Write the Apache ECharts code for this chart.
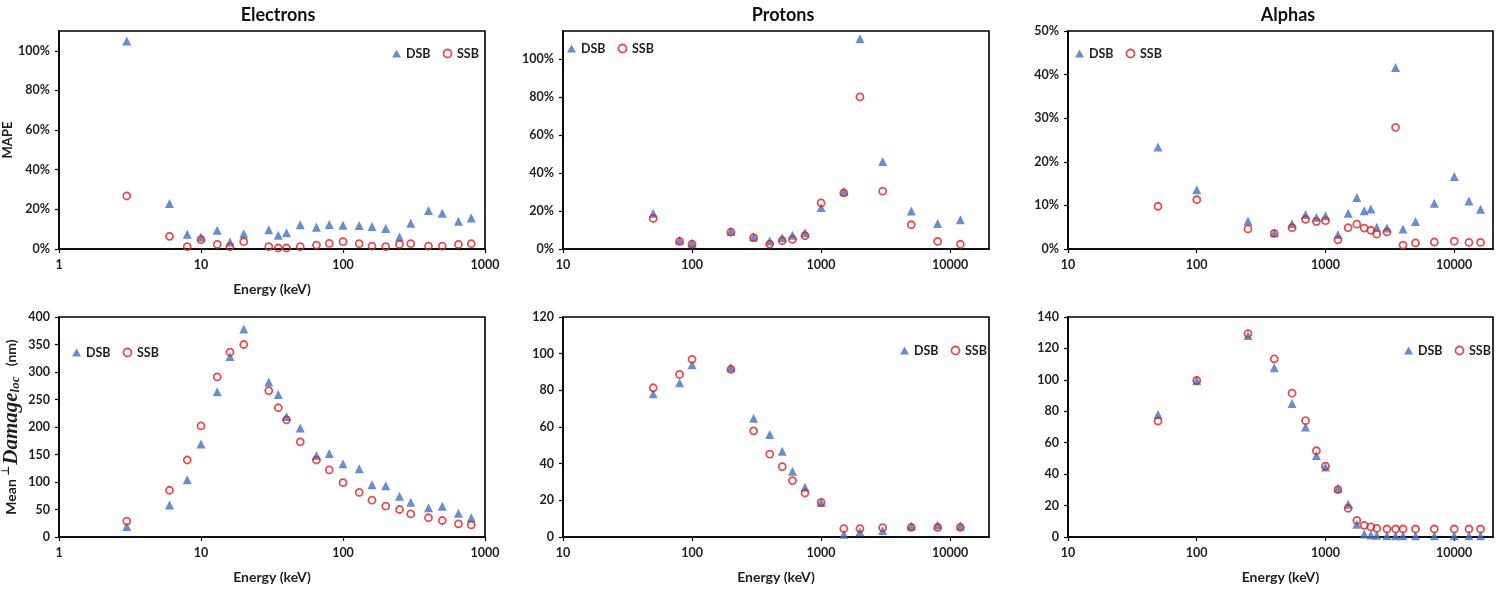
<!DOCTYPE html>
<html>
<head>
<meta charset="utf-8">
<script src="https://cdn.jsdelivr.net/npm/echarts@6.0.0/dist/echarts.min.js"></script>
<style>
html,body{margin:0;padding:0;background:#fff;}
#chart{width:1507px;height:591px;}
</style>
</head>
<body>
<div id="chart"></div>
<script>
// ---------------- DATA ----------------
const panelTitles = ['Electrons', 'Protons', 'Alphas'];
const seriesNames = ['DSB', 'SSB'];
const xAxisName = 'Energy (keV)';

const eEnergy = [3, 6, 8, 10, 13, 16, 20, 30, 35, 40, 50, 65, 80, 100, 130, 160, 200, 250, 300, 400, 500, 650, 800];
const eMapeDSB = [105, 23, 7.4, 6.0, 9.4, 3.5, 7.7, 9.7, 7.0, 8.2, 12.2, 11.0, 12.4, 12.0, 11.9, 11.4, 10.4, 6.0, 13.0, 19.4, 18.1, 14.0, 15.7];
const eMapeSSB = [26.8, 6.4, 1.2, 4.7, 2.3, 1.2, 3.7, 1.2, 0.5, 0.5, 1.2, 2.0, 2.8, 3.7, 2.7, 1.5, 1.2, 2.3, 2.7, 1.5, 1.5, 2.3, 2.7];
const eLocDSB = [19, 58, 104, 169, 264, 328, 378, 282, 259, 219, 198, 148, 152, 133, 124, 95, 93, 74, 63, 53, 56, 43, 35];
const eLocSSB = [29, 85, 140, 202, 291, 336, 350, 266, 235, 213, 173, 140, 122, 99, 81, 67, 56, 50, 42, 35, 30, 24, 22];

const pEnergy = [50, 80, 100, 200, 300, 400, 500, 600, 750, 1000, 1500, 2000, 3000, 5000, 8000, 12000];
const pMapeDSB = [18.9, 4.6, 3.0, 9.3, 6.3, 4.2, 6.0, 7.2, 8.6, 21.9, 30.3, 110.9, 46.2, 20.0, 13.5, 15.4];
const pMapeSSB = [16.1, 4.0, 2.6, 8.9, 6.0, 2.6, 4.4, 5.1, 7.0, 24.3, 29.6, 80.2, 30.5, 12.8, 4.0, 2.5];
const pLocDSB = [78.1, 84.2, 94.0, 92.5, 64.8, 55.9, 46.8, 35.9, 27.1, 18.8, 1.5, 2.9, 3.5, 6.0, 6.6, 6.2];
const pLocSSB = [81.4, 88.7, 96.9, 91.4, 57.9, 45.2, 38.4, 30.8, 24.0, 18.9, 4.6, 4.6, 5.1, 5.3, 5.3, 5.3];

const aEnergy = [50, 100, 250, 400, 550, 700, 850, 1000, 1250, 1500, 1750, 2000, 2250, 2500, 3000, 3500, 4000, 5000, 7000, 10000, 13000, 16000];
const aMapeDSB = [23.4, 13.6, 6.4, 3.7, 5.8, 7.9, 7.3, 7.6, 3.3, 8.2, 11.8, 8.8, 9.2, 5.0, 4.8, 41.6, 4.6, 6.3, 10.5, 16.6, 11.0, 9.1];
const aMapeSSB = [9.8, 11.3, 4.6, 3.6, 4.9, 6.8, 6.3, 6.5, 2.1, 4.9, 5.7, 4.8, 4.3, 3.4, 3.9, 27.9, 0.9, 1.4, 1.6, 1.8, 1.5, 1.5];
const aLocDSB = [77.9, 99.4, 128.3, 107.7, 84.9, 70.0, 51.9, 44.5, 31.1, 20.9, 8.1, 1.9, 1.3, 1.1, 0.9, 0.8, 0.8, 0.8, 0.8, 0.8, 0.8, 0.8];
const aLocSSB = [73.8, 99.6, 129.4, 113.4, 91.5, 74.0, 54.9, 45.1, 30.2, 18.3, 10.6, 7.4, 6.4, 5.5, 5.1, 5.1, 5.1, 5.1, 5.1, 5.1, 5.1, 5.1];

// ---------------- LAYOUT / STYLE ----------------
const FONT = 'Lato';
const BLUE = '#4472C4';
const RED = '#D8232A';
const TXT = '#1f1f1f';

const panels = [
  {x: eEnergy, d: eMapeDSB, s: eMapeSSB, xmin: 1, xmax: 1000, ymax: 110, yint: 20, pct: true,
   grid: {left: 59, top: 31, width: 426, height: 218}, legend: {left: 392, top: 47}, xname: true, yname: 'mape'},
  {x: pEnergy, d: pMapeDSB, s: pMapeSSB, xmin: 10, xmax: 20000, ymax: 115, yint: 20, pct: true,
   grid: {left: 563, top: 31, width: 426, height: 218}, legend: {left: 567, top: 42}, xname: false},
  {x: aEnergy, d: aMapeDSB, s: aMapeSSB, xmin: 10, xmax: 20000, ymax: 50, yint: 10, pct: true,
   grid: {left: 1068, top: 31, width: 425, height: 218}, legend: {left: 1075, top: 47}, xname: false},
  {x: eEnergy, d: eLocDSB, s: eLocSSB, xmin: 1, xmax: 1000, ymax: 400, yint: 50, pct: false,
   grid: {left: 59, top: 317, width: 426, height: 220}, legend: {left: 72, top: 346}, xname: true, yname: 'loc'},
  {x: pEnergy, d: pLocDSB, s: pLocSSB, xmin: 10, xmax: 20000, ymax: 120, yint: 20, pct: false,
   grid: {left: 563, top: 317, width: 426, height: 220}, legend: {left: 900, top: 344}, xname: true},
  {x: aEnergy, d: aLocDSB, s: aLocSSB, xmin: 10, xmax: 20000, ymax: 140, yint: 20, pct: false,
   grid: {left: 1068, top: 317, width: 425, height: 220}, legend: {left: 1404, top: 344}, xname: true}
];

const titleCenters = [273, 778, 1283];

const zip = (xs, ys) => xs.map((x, i) => [x, ys[i]]);

const option = {
  animation: false,
  backgroundColor: '#fff',
  textStyle: {fontFamily: FONT},
  title: panelTitles.map((t, i) => ({
    text: t, left: titleCenters[i], top: 1, textAlign: 'center',
    textStyle: {fontFamily: FONT, fontWeight: 'bold', fontSize: 18, color: '#111'}
  })),
  grid: [], xAxis: [], yAxis: [], legend: [], series: []
};

const axisLineStyle = {show: true, lineStyle: {color: '#000', width: 1.6}};

panels.forEach((p, i) => {
  option.grid.push(Object.assign({
    show: true, borderColor: '#000', borderWidth: 1.6, backgroundColor: 'transparent',
    containLabel: false, outerBoundsMode: 'none'
  }, p.grid));

  option.xAxis.push({
    type: 'log', logBase: 10, gridIndex: i, min: p.xmin, max: p.xmax,
    name: p.xname ? xAxisName : '', nameLocation: 'middle', nameGap: 33,
    nameTextStyle: {fontFamily: FONT, fontWeight: 'bold', fontSize: 14, color: TXT},
    axisLine: axisLineStyle,
    axisTick: {show: true, inside: false, length: 4, lineStyle: {color: '#000', width: 1.2}},
    minorTick: {show: false},
    splitLine: {show: false},
    axisLabel: {
      fontFamily: FONT, fontWeight: 'bold', fontSize: 12.5, color: TXT, margin: 9,
      showMaxLabel: p.xmax === 1000,
      formatter: v => String(Math.round(v))
    }
  });

  const yAx = {
    type: 'value', gridIndex: i, min: 0, max: p.ymax, interval: p.yint,
    axisLine: axisLineStyle,
    axisTick: {show: true, inside: false, length: 4, lineStyle: {color: '#000', width: 1.2}},
    splitLine: {show: false},
    axisLabel: {
      fontFamily: FONT, fontWeight: 'bold', fontSize: 12.5, color: TXT, margin: 9,
      showMaxLabel: (p.ymax % p.yint) === 0,
      formatter: v => p.pct ? (v + '%') : String(v)
    }
  };
  if (p.yname === 'mape') {
    yAx.name = 'MAPE';
    yAx.nameLocation = 'middle';
    yAx.nameGap = 38;
    yAx.nameTextStyle = {fontFamily: FONT, fontWeight: 'bold', fontSize: 13, color: TXT};
  } else if (p.yname === 'loc') {
    yAx.name = '{a|Mean }{b|\u22A5}{c|Damage}{d|loc}{a|   (nm)}';
    yAx.nameLocation = 'middle';
    yAx.nameGap = 37;
    yAx.nameTextStyle = {
      fontFamily: FONT, fontWeight: 'bold', fontSize: 14, color: TXT,
      rich: {
        a: {fontFamily: FONT, fontWeight: 'bold', fontSize: 14, color: TXT},
        b: {fontFamily: 'DejaVu Sans', fontSize: 11, color: TXT, verticalAlign: 'top', padding: [0, 1, 8, 0]},
        c: {fontFamily: 'Liberation Serif', fontStyle: 'italic', fontWeight: 'bold', fontSize: 21, color: TXT},
        d: {fontFamily: 'Liberation Serif', fontStyle: 'italic', fontWeight: 'bold', fontSize: 13, color: TXT, verticalAlign: 'bottom', padding: [8, 0, 0, 0]}
      }
    };
  }
  option.yAxis.push(yAx);

  option.legend.push({
    left: p.legend.left, top: p.legend.top, orient: 'horizontal',
    itemWidth: 9, itemHeight: 8, itemGap: 12, padding: 0,
    textStyle: {fontFamily: FONT, fontWeight: 'bold', fontSize: 12.5, color: TXT},
    data: [
      {name: seriesNames[0], icon: 'triangle', itemStyle: {color: BLUE}},
      {name: seriesNames[1], icon: 'circle', itemStyle: {color: 'rgba(255,255,255,0)', borderColor: RED, borderWidth: 1.8}}
    ]
  });

  option.series.push({
    name: seriesNames[0], type: 'scatter', xAxisIndex: i, yAxisIndex: i,
    symbol: 'triangle', symbolSize: 9,
    itemStyle: {color: BLUE},
    data: zip(p.x, p.d), z: 2
  });
  option.series.push({
    name: seriesNames[1], type: 'scatter', xAxisIndex: i, yAxisIndex: i,
    symbol: 'circle', symbolSize: 7,
    itemStyle: {color: 'rgba(255,255,255,0)', borderColor: RED, borderWidth: 1.8},
    data: zip(p.x, p.s), z: 3
  });
});

const chart = echarts.init(document.getElementById('chart'), null, {renderer: 'canvas'});
chart.setOption(option);
</script>
</body>
</html>
